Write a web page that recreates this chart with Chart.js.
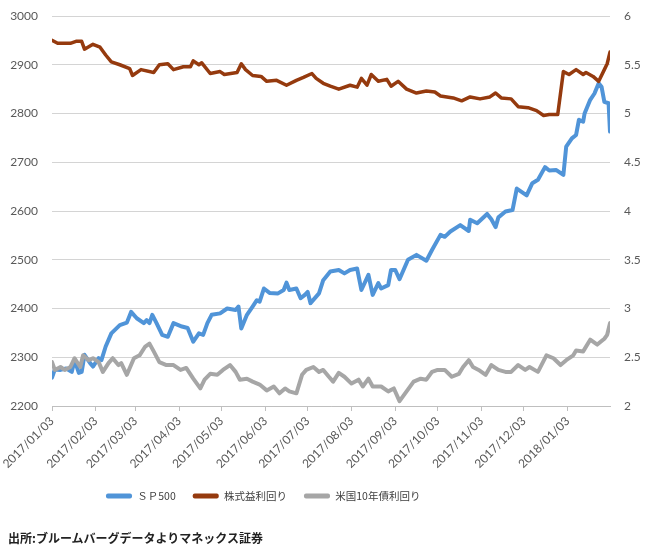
<!DOCTYPE html>
<html lang="ja">
<head>
<meta charset="UTF-8">
<title>SP500・株式益利回り・米国10年債利回り</title>
<script src="https://cdn.jsdelivr.net/npm/chart.js"></script>
<style>
  body { margin: 0; background: #fff; }
  #wrap { position: relative; width: 650px; height: 553px; }
  #wrap canvas { display: block; }
  #source {
    position: absolute; left: 8px; top: 529px;
    font: bold 12px "Noto Sans CJK JP", sans-serif;
    line-height: 18px; color: #222;
  }
</style>
</head>
<body>
<div id="wrap">
  <canvas id="chart"></canvas>
  <div id="source">出所:ブルームバーグデータよりマネックス証券</div>
</div>
<script>
// x = days since 2017/01/03 (last point = 2018/02/02)
const tickLabels = ['2017/01/03', '2017/02/03', '2017/03/03', '2017/04/03', '2017/05/03', '2017/06/03',
                    '2017/07/03', '2017/08/03', '2017/09/03', '2017/10/03', '2017/11/03', '2017/12/03', '2018/01/03'];
const seriesNames = ['ＳＰ500', '株式益利回り', '米国10年債利回り'];

const spDays = [0, 2, 6, 10, 14, 16, 19, 21, 23, 27,
                29, 33, 35, 38, 42, 48, 53, 56, 60, 65,
                67, 69, 71, 74, 78, 82, 86, 92, 96, 100,
                104, 107, 110, 113, 119, 124, 130, 132, 134, 138,
                142, 145, 147, 150, 154, 160, 164, 166, 168, 173,
                176, 179, 181, 183, 189, 192, 197, 203, 207, 211,
                216, 219, 224, 227, 231, 233, 238, 240, 243, 246,
                252, 258, 265, 269, 275, 278, 282, 289, 295, 296,
                301, 308, 311, 314, 316, 321, 326, 329, 336, 340,
                344, 349, 352, 357, 362, 364, 368, 371, 373, 376,
                377, 381, 384, 387, 389, 391, 394, 395];
const spValues = [2258, 2275, 2274, 2277, 2270, 2294, 2268, 2270, 2305, 2288,
                  2281, 2298, 2294, 2322, 2349, 2366, 2371, 2393, 2380, 2370,
                  2376, 2370, 2387, 2370, 2346, 2342, 2370, 2363, 2360, 2332,
                  2349, 2346, 2370, 2387, 2390, 2400, 2397, 2404, 2359, 2387,
                  2404, 2417, 2414, 2441, 2432, 2431, 2438, 2453, 2438, 2441,
                  2421, 2428, 2434, 2411, 2431, 2458, 2476, 2479, 2472, 2479,
                  2482, 2438, 2469, 2428, 2452, 2441, 2448, 2479, 2479, 2460,
                  2500, 2510, 2498, 2520, 2551, 2547, 2558, 2571, 2559, 2582,
                  2575, 2594, 2583, 2567, 2587, 2599, 2602, 2646, 2632, 2657,
                  2664, 2690, 2683, 2684, 2674, 2732, 2749, 2756, 2787, 2783,
                  2800, 2828, 2841, 2862, 2855, 2824, 2821, 2763];

const eyDays = [0, 4, 13, 17, 21, 23, 29, 34, 38, 42,
                48, 55, 57, 63, 72, 76, 82, 86, 93, 98,
                100, 104, 106, 112, 119, 122, 131, 134, 137, 142,
                148, 152, 159, 166, 173, 178, 184, 187, 192, 197,
                203, 211, 216, 219, 223, 226, 231, 237, 240, 245,
                251, 258, 265, 271, 275, 284, 290, 296, 303, 310,
                314, 318, 325, 330, 337, 343, 348, 352, 358, 362,
                366, 371, 376, 378, 383, 387, 391, 393, 395];
const eyValues = [5.75, 5.72, 5.72, 5.74, 5.74, 5.66, 5.71, 5.68, 5.60, 5.53,
                  5.50, 5.46, 5.39, 5.45, 5.42, 5.50, 5.51, 5.45, 5.48, 5.48,
                  5.54, 5.50, 5.52, 5.41, 5.43, 5.40, 5.42, 5.51, 5.45, 5.39,
                  5.38, 5.33, 5.34, 5.29, 5.34, 5.37, 5.41, 5.36, 5.31, 5.28,
                  5.25, 5.29, 5.27, 5.36, 5.29, 5.40, 5.33, 5.35, 5.28, 5.33,
                  5.25, 5.21, 5.23, 5.22, 5.18, 5.16, 5.13, 5.17, 5.15, 5.17,
                  5.21, 5.16, 5.15, 5.07, 5.06, 5.03, 4.98, 4.99, 4.99, 5.43,
                  5.40, 5.45, 5.40, 5.42, 5.38, 5.33, 5.45, 5.51, 5.63];

const tyDays = [0, 2, 6, 9, 13, 16, 20, 22, 26, 29,
                33, 36, 40, 43, 47, 49, 53, 58, 62, 66,
                69, 72, 76, 81, 86, 91, 95, 100, 105, 108,
                112, 117, 121, 126, 130, 133, 138, 142, 147, 152,
                157, 161, 165, 168, 173, 177, 180, 185, 189, 192,
                196, 199, 203, 207, 212, 217, 220, 224, 227, 233,
                238, 242, 246, 251, 256, 261, 265, 269, 273, 278,
                283, 288, 291, 295, 298, 302, 307, 311, 316, 321,
                325, 330, 335, 338, 344, 350, 355, 360, 364, 369,
                371, 376, 381, 386, 391, 393, 395];
const tyValues = [2.45, 2.37, 2.40, 2.37, 2.40, 2.49, 2.40, 2.52, 2.47, 2.49,
                  2.45, 2.35, 2.44, 2.49, 2.42, 2.44, 2.32, 2.49, 2.52, 2.61,
                  2.64, 2.56, 2.45, 2.42, 2.42, 2.37, 2.39, 2.28, 2.18, 2.27,
                  2.33, 2.32, 2.37, 2.42, 2.35, 2.27, 2.28, 2.25, 2.22, 2.16,
                  2.20, 2.13, 2.18, 2.15, 2.13, 2.32, 2.37, 2.40, 2.35, 2.37,
                  2.30, 2.25, 2.34, 2.30, 2.23, 2.27, 2.20, 2.28, 2.20, 2.20,
                  2.15, 2.18, 2.05, 2.15, 2.25, 2.28, 2.27, 2.35, 2.37, 2.37,
                  2.30, 2.33, 2.40, 2.47, 2.40, 2.37, 2.32, 2.42, 2.37, 2.35,
                  2.35, 2.42, 2.37, 2.40, 2.35, 2.52, 2.49, 2.42, 2.47, 2.52,
                  2.57, 2.56, 2.68, 2.63, 2.69, 2.73, 2.85];

const dayOf = s => (Date.UTC(+s.slice(0, 4), +s.slice(5, 7) - 1, +s.slice(8, 10)) - Date.UTC(2017, 0, 3)) / 86400000;
const tickDays = tickLabels.map(dayOf);
const toPoints = (days, values) => days.map((d, i) => ({ x: d, y: values[i] }));

const tickFont = { family: 'Lato, "Liberation Sans", sans-serif', size: 12 };
const tickColor = '#595959';

// move legend row so it starts where the original one does
const legendShift = {
  id: 'legendShift',
  afterLayout(chart) {
    const lg = chart.legend;
    lg.left = 106 - lg.options.labels.padding;
  }
};

new Chart(document.getElementById('chart'), {
  type: 'line',
  data: {
    datasets: [{
      label: seriesNames[0],
      data: toPoints(spDays, spValues),
      yAxisID: 'y',
      borderColor: '#5094D8',
      backgroundColor: '#5094D8',
      borderWidth: 4,
      order: 3
    }, {
      label: seriesNames[1],
      data: toPoints(eyDays, eyValues),
      yAxisID: 'y1',
      borderColor: '#953A0E',
      backgroundColor: '#953A0E',
      borderWidth: 3.5,
      order: 2
    }, {
      label: seriesNames[2],
      data: toPoints(tyDays, tyValues),
      yAxisID: 'y1',
      borderColor: '#A6A6A6',
      backgroundColor: '#A6A6A6',
      borderWidth: 4,
      order: 1
    }]
  },
  options: {
    responsive: true,
    maintainAspectRatio: false,
    animation: false,
    layout: { padding: { top: 16, left: 0, right: 0, bottom: 41.75 } },
    elements: { point: { radius: 0 }, line: { tension: 0, borderJoinStyle: 'round', borderCapStyle: 'round' } },
    plugins: {
      tooltip: { enabled: false },
      legend: {
        position: 'bottom',
        align: 'start',
        labels: {
          font: { family: '"Noto Sans CJK JP", sans-serif', size: 10.5 },
          color: '#404040',
          boxWidth: 26,
          boxHeight: 5,
          padding: 17,
          useBorderRadius: true,
          borderRadius: 2,
          sort: (a, b) => a.datasetIndex - b.datasetIndex,
          generateLabels(chart) {
            return Chart.defaults.plugins.legend.labels.generateLabels(chart)
              .map(item => Object.assign(item, { lineWidth: 0 }));
          }
        }
      }
    },
    scales: {
      x: {
        type: 'linear',
        min: 0,
        max: spDays[spDays.length - 1],
        afterBuildTicks: scale => { scale.ticks = tickDays.map(v => ({ value: v })); },
        afterFit: scale => { scale.height = 67.75; scale.paddingLeft = 0; scale.paddingRight = 0; },
        grid: { drawOnChartArea: false, drawTicks: true, tickLength: 5, color: '#bfbfbf' },
        border: { display: true, color: '#bfbfbf' },
        ticks: {
          autoSkip: false,
          minRotation: 45,
          maxRotation: 45,
          font: tickFont,
          color: tickColor,
          callback: (v, i) => tickLabels[i]
        }
      },
      y: {
        position: 'left',
        min: 2200,
        max: 3000,
        afterFit: scale => { scale.width = 52; scale.paddingTop = 0; scale.paddingBottom = 0; },
        grid: { color: '#d4d4d4', drawTicks: false },
        border: { display: false },
        ticks: { stepSize: 100, padding: 14, font: tickFont, color: tickColor, callback: v => String(v) }
      },
      y1: {
        position: 'right',
        min: 2,
        max: 6,
        afterFit: scale => { scale.width = 40; scale.paddingTop = 0; scale.paddingBottom = 0; },
        grid: { drawOnChartArea: false, drawTicks: false },
        border: { display: false },
        ticks: { stepSize: 0.5, padding: 14, font: tickFont, color: tickColor, callback: v => String(v) }
      }
    }
  },
  plugins: [legendShift]
});
</script>
</body>
</html>
